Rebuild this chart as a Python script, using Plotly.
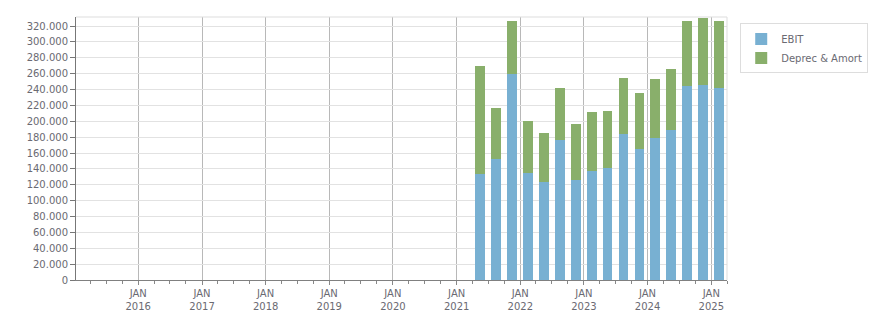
import plotly.graph_objects as go

quarters = ["2021-04-01", "2021-07-01", "2021-10-01", "2022-01-01", "2022-04-01", "2022-07-01",
            "2022-10-01", "2023-01-01", "2023-04-01", "2023-07-01", "2023-10-01", "2024-01-01",
            "2024-04-01", "2024-07-01", "2024-10-01", "2025-01-01"]
ebit = [133000, 152000, 259500, 135500, 123000, 176000, 125500, 138000,
        141000, 183500, 165000, 178500, 189000, 244500, 245500, 242000]
deprec_amort = [137000, 64500, 66500, 64500, 62000, 66000, 71000, 73500,
                72000, 71000, 70500, 74500, 77000, 82000, 84500, 84500]
year_ticks = ["2016-01-01", "2017-01-01", "2018-01-01", "2019-01-01", "2020-01-01",
              "2021-01-01", "2022-01-01", "2023-01-01", "2024-01-01", "2025-01-01"]
year_labels = ["JAN<br>2016", "JAN<br>2017", "JAN<br>2018", "JAN<br>2019", "JAN<br>2020",
               "JAN<br>2021", "JAN<br>2022", "JAN<br>2023", "JAN<br>2024", "JAN<br>2025"]

FONT = "DejaVu Sans"
TXT = "#6a6a72"

fig = go.Figure()
fig.add_trace(go.Bar(x=quarters, y=ebit, name="EBIT", marker=dict(color="#78B0D2", line=dict(width=0)),
                     xperiod="M3", xperiodalignment="middle"))
fig.add_trace(go.Bar(x=quarters, y=deprec_amort, name="Deprec & Amort",
                     marker=dict(color="#89AF6B", line=dict(width=0)),
                     xperiod="M3", xperiodalignment="middle"))

fig.update_layout(
    barmode="stack",
    bargap=0.37,
    width=876, height=313,
    margin=dict(l=76, r=149, t=17, b=33, autoexpand=False),
    paper_bgcolor="white", plot_bgcolor="white",
    separators=",.",
    font=dict(family=FONT, size=10, color=TXT),
    legend=dict(xref="container", yref="container", x=0.845, y=0.925,
                xanchor="left", yanchor="top",
                bordercolor="#dddddd", borderwidth=1, bgcolor="white",
                font=dict(family=FONT, size=10, color=TXT),
                traceorder="normal", itemwidth=30, tracegroupgap=0),
    showlegend=True,
)
fig.update_xaxes(
    type="date",
    range=["2015-01-09", "2025-04-01"],
    tickvals=year_ticks, ticktext=year_labels,
    showgrid=True, gridcolor="#b8b8b8", gridwidth=1,
    ticks="outside", ticklen=4, tickcolor="#888888",
    showline=True, linecolor="#808080", linewidth=1,
    minor=dict(dtick="M3", tick0="2015-01-01", ticks="outside", ticklen=3,
               tickcolor="#888888", showgrid=False),
    tickfont=dict(family=FONT, size=10, color=TXT),
    zeroline=False, automargin=False,
)
fig.update_yaxes(
    range=[0, 331500], dtick=20000, tick0=0, tickformat=",d",
    showgrid=True, gridcolor="#e2e2e2", gridwidth=1,
    ticks="outside", ticklen=5, tickcolor="#777777",
    showline=True, linecolor="#777777", linewidth=1,
    tickfont=dict(family=FONT, size=10, color=TXT),
    zeroline=False, automargin=False,
)
fig.add_shape(type="line", xref="paper", yref="paper", x0=1, x1=1, y0=0, y1=1,
              line=dict(color="#dddddd", width=1))
fig.add_shape(type="line", xref="paper", yref="paper", x0=0, x1=1, y0=1, y1=1,
              line=dict(color="#dddddd", width=1))

fig.write_html("out.html")
